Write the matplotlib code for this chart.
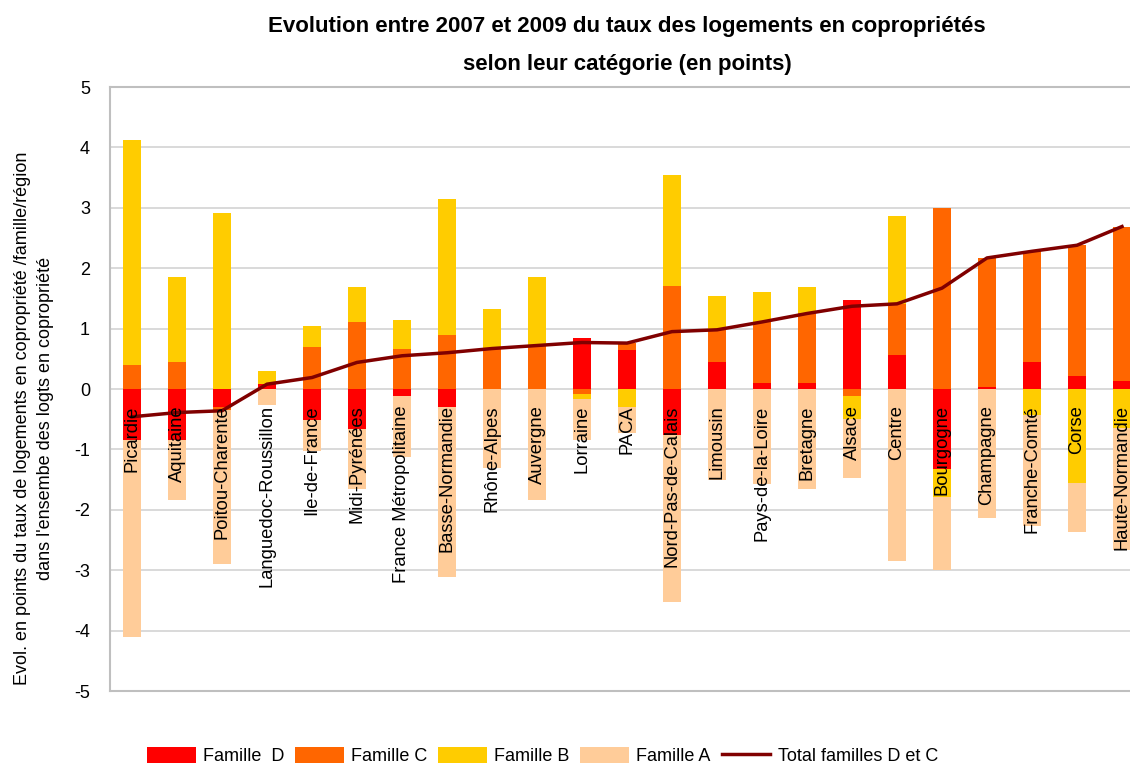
import matplotlib
matplotlib.use("Agg")
import matplotlib.pyplot as plt
from matplotlib import font_manager
from matplotlib.patches import Patch
from matplotlib.lines import Line2D
from matplotlib.transforms import Bbox
import numpy as np

regions = ["Picardie", "Aquitaine", "Poitou-Charente", "Languedoc-Roussillon",
           "Ile-de-France", "Midi-Pyrénées", "France Métropolitaine", "Basse-Normandie",
           "Rhône-Alpes", "Auvergne", "Lorraine", "PACA", "Nord-Pas-de-Calais",
           "Limousin", "Pays-de-la-Loire", "Bretagne", "Alsace", "Centre", "Bourgogne",
           "Champagne", "Franche-Comté", "Corse", "Haute-Normandie"]

famille_D = [-0.85, -0.84, -0.30, 0.08, -0.51, -0.66, -0.11, -0.30, 0.00, 0.00, 0.85, 0.65,
             -0.76, 0.45, 0.10, 0.10, 1.48, 0.57, -1.32, 0.04, 0.45, 0.22, 0.14]
famille_C = [0.39, 0.45, -0.05, 0.00, 0.70, 1.11, 0.66, 0.90, 0.68, 0.72, -0.08, 0.11,
             1.71, 0.53, 1.01, 1.16, -0.11, 0.84, 3.00, 2.13, 1.83, 2.16, 2.55]
famille_B = [3.74, 1.41, 2.92, 0.21, 0.35, 0.58, 0.49, 2.25, 0.65, 1.14, -0.08, -0.30,
             1.84, 0.56, 0.50, 0.43, -0.38, 1.46, -0.46, 0.00, -0.43, -1.55, -0.64]
famille_A = [-3.25, -1.00, -2.55, -0.26, -0.52, -1.00, -1.01, -2.82, -1.30, -1.84, -0.68, -0.43,
             -2.77, -1.51, -1.58, -1.66, -0.98, -2.84, -1.21, -2.14, -1.83, -0.81, -2.02]
total_DC = [-0.46, -0.39, -0.36, 0.08, 0.19, 0.44, 0.55, 0.60, 0.67, 0.72, 0.77, 0.76,
            0.95, 0.98, 1.11, 1.25, 1.37, 1.41, 1.67, 2.17, 2.28, 2.38, 2.69]

series_names = ["Famille  D", "Famille C", "Famille B", "Famille A"]
colors = ["#FF0000", "#FF6600", "#FFCC00", "#FFCC99"]
line_color = "#800000"
yticks = list(range(-5, 6))

available = {f.name for f in font_manager.fontManager.ttflist}
base = "Liberation Sans" if "Liberation Sans" in available else "DejaVu Sans"
narrow = "Liberation Sans Narrow" if "Liberation Sans Narrow" in available else base
plt.rcParams["font.family"] = [base, "DejaVu Sans"]

fig = plt.figure(figsize=(11.30, 7.67), dpi=100)
ax = fig.add_axes([109.5 / 1130, (767 - 691) / 767, 1035 / 1130, (691 - 87) / 767])

x = np.arange(len(regions))
width = 0.4
pos_bottom = np.zeros(len(regions))
neg_bottom = np.zeros(len(regions))
for vals, col in zip([famille_D, famille_C, famille_B, famille_A], colors):
    v = np.array(vals, dtype=float)
    bottoms = np.where(v >= 0, pos_bottom, neg_bottom)
    ax.bar(x, v, width, bottom=bottoms, color=col, linewidth=0, zorder=2)
    pos_bottom = pos_bottom + np.where(v > 0, v, 0)
    neg_bottom = neg_bottom + np.where(v < 0, v, 0)

ax.plot(x, total_DC, color=line_color, linewidth=2.5, zorder=3, solid_joinstyle="round")

for xi, name in zip(x, regions):
    ax.text(xi, -0.27, name, rotation=90, ha="center", va="top", fontsize=13.2,
            color="black", zorder=4)

ax.set_xlim(-0.5, len(regions) - 0.5)
ax.set_ylim(-5, 5)
ax.set_yticks(yticks)
ax.set_yticklabels([str(t) for t in yticks], fontsize=13)
ax.set_xticks([])
ax.tick_params(axis="y", length=0, pad=14)
ax.grid(axis="y", color="#D0D0D0", linewidth=1.1, zorder=0)
ax.set_axisbelow(True)
for s in ax.spines.values():
    s.set_color("#BFBFBF")
    s.set_linewidth(1.5)

yl1 = fig.text(0.0195, 0.455, "Evol. en points du taux de logements en copropriété /famille/région",
               rotation=90, ha="center", va="center", fontsize=13)
yl1.set_clip_box(Bbox([[0, 0], [1130, 767 - 150]]))
yl1.set_clip_on(True)
fig.text(0.0405, 0.455, "dans l'ensembe des logts en copropriété",
         rotation=90, ha="center", va="center", fontsize=13)

fig.text(0.555, 0.965, "Evolution entre 2007 et 2009 du taux des logements en copropriétés",
         ha="center", va="center", fontsize=16, fontweight="bold", family=[narrow, "DejaVu Sans"])
fig.text(0.555, 0.916, "selon leur catégorie (en points)",
         ha="center", va="center", fontsize=16, fontweight="bold", family=[narrow, "DejaVu Sans"])

handles = [Patch(facecolor=c, edgecolor="none", label=n) for c, n in zip(colors, series_names)]
handles.append(Line2D([0], [0], color=line_color, linewidth=2.5, label="Total familles D et C"))
fig.legend(handles=handles, loc="center", bbox_to_anchor=(0.48, 0.014), ncol=5, frameon=False,
           prop={"family": [narrow, "DejaVu Sans"], "size": 13}, handlelength=2.7,
           handleheight=1.0, columnspacing=0.6, handletextpad=0.4)

fig.savefig("out.png", dpi=100)
